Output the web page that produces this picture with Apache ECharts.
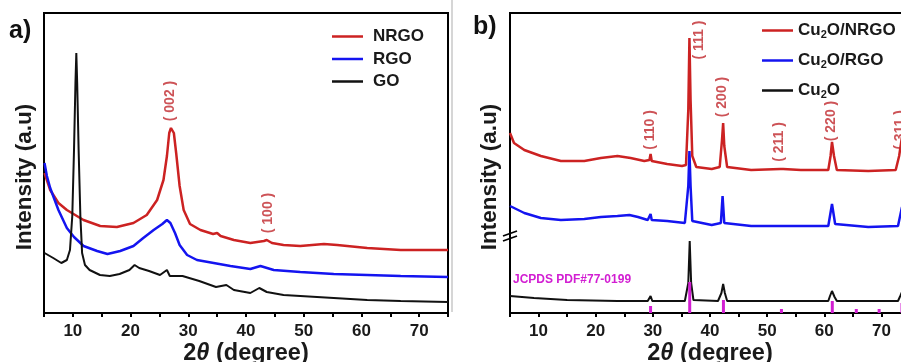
<!DOCTYPE html>
<html><head><meta charset="utf-8">
<script src="https://cdn.jsdelivr.net/npm/echarts@6/dist/echarts.min.js"></script>
<style>html,body{margin:0;padding:0;background:#fff}#c{width:901px;height:362px}</style>
</head><body><div id="c"></div>
<script>
// ---------- Panel a) : GO / RGO / NRGO (2θ, intensity a.u.) ----------
const nrgoA = [[5.09,140],[6.07,123],[7.5,110],[8.96,103],[11.85,93],[14.74,87],[17.63,86],[20.5,90],[22.8,98],[24.6,113],[25.7,133],[26.3,157],[26.7,180],[27.0,185],[27.5,180],[27.9,160],[28.5,127],[29.2,103],[30.3,89],[32.1,83],[34.3,79],[35.0,80],[35.6,77],[37.9,73],[40.75,70],[43.1,72],[43.6,73],[44.5,70],[46.5,68],[49.4,67],[53.5,69],[55.8,68],[61.0,65],[66.8,63],[75,63]];
const rgoA = [[5.09,150],[5.5,137],[6.07,125],[7.5,103],[8.96,85],[10.2,76],[11.85,67],[14.2,62],[16.0,59],[18.2,62],[20.5,67],[22.2,75],[24.0,83],[25.5,89],[26.3,93],[26.9,90],[27.7,80],[28.5,68],[29.8,58],[31.5,53],[34.4,50],[37.3,47],[40.75,44],[42.5,47],[44.8,43],[49.4,41],[55.2,39],[61.0,38],[66.8,37],[75,36]];
const goA = [[5.09,60],[6.6,55],[8.0,50],[8.96,53],[9.5,63],[9.9,97],[10.2,163],[10.45,230],[10.6,260],[10.75,230],[11.0,163],[11.3,97],[11.6,60],[12.1,48],[12.9,43],[14.7,38],[16.4,37],[18.1,39],[19.8,43],[20.7,48],[21.5,45],[23.2,42],[25.1,38],[26.3,43],[26.8,37],[29.0,37],[31.9,32],[34.8,26],[36.6,28],[37.9,23],[40.75,20],[42.3,25],[43.6,21],[46.5,18],[49.4,17],[55.2,15],[61.0,13],[66.8,12],[75,11]];
const peakTextA = ['( 002 )', '( 100 )'];
const peakXA = [26.9, 43.9];
const peakYA = [212, 100];

// ---------- Panel b) : Cu2O / Cu2O-RGO / Cu2O-NRGO ----------
const cuNrgoB = [[5.0,180],[5.7,170],[7.5,163],[10.4,157],[13.9,152],[18.0,152],[20.9,155],[23.8,157],[26.1,155],[28.5,152],[29.4,153],[29.6,159],[29.8,152],[32.5,149],[35.1,147],[35.8,148],[36.2,203],[36.4,275],[36.6,213],[36.9,157],[37.6,146],[40.3,144],[41.7,146],[42.1,173],[42.3,190],[42.5,167],[43.0,146],[47.2,143],[52.3,144],[52.5,146],[52.8,144],[55.9,143],[60.7,143],[61.1,157],[61.35,171],[61.7,157],[62.2,143],[67.7,142],[72.5,143],[73.1,157],[73.6,176],[74.0,157],[74.5,143],[75,143]];
const cuRgoB = [[5.0,107],[7.5,100],[10.4,95],[13.9,93],[18.0,94],[20.9,96],[23.8,97],[25.9,98],[27.4,96],[29.1,93],[29.6,99],[29.8,93],[32.5,92],[35.6,90],[36.2,127],[36.4,162],[36.6,127],[36.9,92],[40.3,88],[41.9,90],[42.2,117],[42.5,90],[47.2,87],[53.1,87],[60.7,87],[61.35,109],[61.9,89],[67.7,86],[72.9,87],[73.6,106],[74.1,88],[75,87]];
const cuB = [[5.0,17],[9.2,15],[15.0,13],[23.8,12],[29.1,12],[29.6,17],[29.9,12],[35.6,12],[36.2,30],[36.45,72],[36.7,30],[37.1,13],[41.4,12],[42.0,20],[42.3,29],[42.6,20],[43.0,12],[60.7,12],[61.0,17],[61.35,22],[61.8,16],[62.2,12],[72.9,12],[73.3,17],[73.6,21],[74.0,14],[75,12]];
const jcpdsX = [29.6, 36.45, 42.35, 52.5, 61.4, 65.6, 69.6, 73.6];
const jcpdsY = [7, 31, 13, 4, 12, 4, 4, 10];
const peakTextB = ['( 110 )', '( 111 )', '( 200 )', '( 211 )', '( 220 )', '( 311 )'];
const peakXB = [29.6, 38.1, 42.2, 52.1, 61.2, 73.2];
const peakYB = [183, 273, 216, 171, 192, 183];

const xTicks = [10, 20, 30, 40, 50, 60, 70];

const RED = '#cc2222', BLUE = '#1414f0', BLACK = '#111111', ANN = '#c0282d', MAG = '#d21ed2';
const FONT = '"Liberation Sans", Arial, Helvetica, sans-serif';

function xAxisCfg(idx) {
  return {
    type: 'value', gridIndex: idx, min: 5, max: 75, interval: 5,
    axisLine: { show: true, onZero: false, lineStyle: { color: '#000', width: 2 } },
    axisTick: { show: true, inside: false, length: 4, lineStyle: { color: '#000', width: 2 } },
    splitLine: { show: false },
    axisLabel: {
      margin: 10, color: '#1a1a1a', fontSize: 17, fontWeight: 'bold', fontFamily: FONT,
      formatter: v => xTicks.includes(v) ? String(v) : ''
    },
    name: '2{i|θ} (degree)', nameLocation: 'middle', nameGap: 29, nameMoveOverlap: false,
    nameTextStyle: { color: '#1a1a1a', fontSize: 23.5, fontWeight: 'bold', fontFamily: FONT,
      rich: { i: { fontStyle: 'italic', fontSize: 23.5, fontWeight: 'bold', fontFamily: FONT, color: '#1a1a1a' } } }
  };
}
function yAxisCfg(idx, gap) {
  return {
    type: 'value', gridIndex: idx, min: 0, max: 300,
    axisLine: { show: true, onZero: false, lineStyle: { color: '#000', width: 2 } },
    axisTick: { show: false }, axisLabel: { show: false }, splitLine: { show: false },
    name: 'Intensity (a.u)', nameLocation: 'middle', nameGap: gap,
    nameTextStyle: { color: '#1a1a1a', fontSize: 22.5, fontWeight: 'bold', fontFamily: FONT, padding: [0, 28, 0, 0] }
  };
}
function lineSeries(name, data, color, idx, w) {
  return { name, type: 'line', xAxisIndex: idx, yAxisIndex: idx, data, showSymbol: false, symbol: 'none',
    lineStyle: { color, width: w }, itemStyle: { color }, smooth: false, silent: true, z: 3 };
}
function labelSeries(xs, ys, texts, idx) {
  return { type: 'scatter', xAxisIndex: idx, yAxisIndex: idx, symbolSize: 0, silent: true, z: 5,
    data: xs.map((x, i) => [x, ys[i], texts[i]]),
    label: { show: true, position: 'inside', rotate: 90, formatter: p => p.data[2],
      color: ANN, fontSize: 14, fontWeight: 'bold', fontFamily: FONT } };
}

const chart = echarts.init(document.getElementById('c'), null, { renderer: 'canvas' });
const option = {
  backgroundColor: '#ffffff',
  animation: false,
  grid: [
    { left: 44, top: 13, width: 404, height: 300, show: true, borderColor: '#000', borderWidth: 2, backgroundColor: 'transparent', outerBoundsMode: 'none', containLabel: false },
    { left: 510, top: 13, width: 400, height: 300, show: true, borderColor: '#000', borderWidth: 2, backgroundColor: 'transparent', outerBoundsMode: 'none', containLabel: false }
  ],
  xAxis: [xAxisCfg(0), xAxisCfg(1)],
  yAxis: [yAxisCfg(0, 8), yAxisCfg(1, 9)],
  legend: [
    { data: ['NRGO', 'RGO', 'GO'], orient: 'vertical', left: 332, top: 28, itemGap: 5.5, padding: 0,
      icon: 'rect', itemWidth: 31, itemHeight: 2.5, selectedMode: false,
      textStyle: { color: '#1a1a1a', fontSize: 17, fontWeight: 'bold', fontFamily: FONT, padding: [0, 0, 0, 5] } },
    { data: ['Cu2O/NRGO', 'Cu2O/RGO', 'Cu2O'], orient: 'vertical', left: 762, top: 22, itemGap: 11.5, padding: 0,
      icon: 'rect', itemWidth: 31, itemHeight: 2.5, selectedMode: false,
      formatter: n => n.replace('Cu2O', 'Cu{s|2}O'),
      textStyle: { color: '#1a1a1a', fontSize: 17, fontWeight: 'bold', fontFamily: FONT, padding: [0, 0, 0, 0],
        rich: { s: { fontSize: 11, fontWeight: 'bold', fontFamily: FONT, color: '#1a1a1a', padding: [9, 0, 0, 0] } } } }
  ],
  series: [
    lineSeries('NRGO', nrgoA, RED, 0, 2.5),
    lineSeries('RGO', rgoA, BLUE, 0, 2.5),
    lineSeries('GO', goA, BLACK, 0, 2),
    labelSeries(peakXA, peakYA, peakTextA, 0),
    lineSeries('Cu2O/NRGO', cuNrgoB, RED, 1, 2.5),
    lineSeries('Cu2O/RGO', cuRgoB, BLUE, 1, 2.5),
    lineSeries('Cu2O', cuB, BLACK, 1, 2),
    { type: 'bar', xAxisIndex: 1, yAxisIndex: 1, barWidth: 3, silent: true, z: 4,
      data: jcpdsX.map((x, i) => [x, jcpdsY[i]]), itemStyle: { color: MAG } },
    labelSeries(peakXB, peakYB, peakTextB, 1)
  ],
  graphic: [
    { type: 'text', left: 9, top: 19, style: { text: 'a)', fill: '#111', font: 'bold 25px ' + FONT } },
    { type: 'text', left: 473, top: 15, style: { text: 'b)', fill: '#111', font: 'bold 25px ' + FONT } },
    { type: 'text', left: 513, top: 274, style: { text: 'JCPDS PDF#77-0199', fill: MAG, font: 'bold 12px ' + FONT } },
    { type: 'line', shape: { x1: 452, y1: 0, x2: 452, y2: 312 }, style: { stroke: '#c8c8c8', lineWidth: 1.5 } }
  ]
};
chart.setOption(option);
// axis-break marks on panel b's y axis
const bp = chart.convertToPixel({ xAxisIndex: 1, yAxisIndex: 1 }, [5, 78]);
chart.setOption({ graphic: option.graphic.concat([
  { type: 'line', shape: { x1: bp[0] - 7, y1: bp[1] + 1, x2: bp[0] + 7, y2: bp[1] - 4 }, style: { stroke: '#000', lineWidth: 1.8 } },
  { type: 'line', shape: { x1: bp[0] - 7, y1: bp[1] + 6, x2: bp[0] + 7, y2: bp[1] + 1 }, style: { stroke: '#000', lineWidth: 1.8 } }
]) });
</script>
</body></html>
